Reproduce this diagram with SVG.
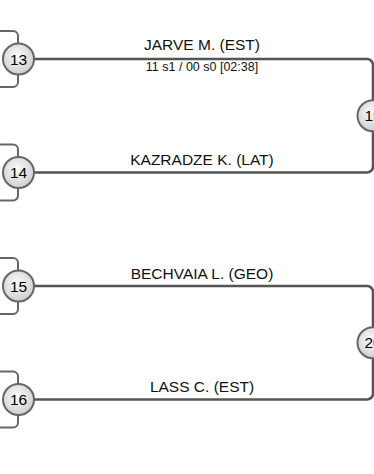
<svg xmlns="http://www.w3.org/2000/svg" width="374" height="474" viewBox="0 0 374 474">
<style>
.ln{fill:none;stroke:#555;stroke-width:2.5}
.br{fill:none;stroke:#666;stroke-width:2}
.c{fill:url(#g);stroke:#666;stroke-width:2}
.n{font-family:"Liberation Sans",Arial,sans-serif;font-size:15.5px;fill:#000;text-anchor:middle}
.name{font-family:"Liberation Sans",Arial,sans-serif;font-size:15.5px;fill:#111;text-anchor:middle}
.sc{font-family:"Liberation Sans",Arial,sans-serif;font-size:12.5px;fill:#111;text-anchor:middle}
</style>
<defs>
<radialGradient id="g" cx="0.45" cy="0.4" r="0.6">
<stop offset="0" stop-color="#fbfbfb"/>
<stop offset="1" stop-color="#cfcfcf"/>
</radialGradient>
</defs>
<g id="connectors">
<path class="br" d="M0,31 H13 A5,5 0 0 1 18,36 V82 A5,5 0 0 1 13,87 H0"/>
<path class="br" d="M0,144.5 H13 A5,5 0 0 1 18,149.5 V195.5 A5,5 0 0 1 13,200.5 H0"/>
<path class="br" d="M0,258 H13 A5,5 0 0 1 18,263 V309 A5,5 0 0 1 13,314 H0"/>
<path class="br" d="M0,371.5 H13 A5,5 0 0 1 18,376.5 V422.5 A5,5 0 0 1 13,427.5 H0"/>
<path class="ln" d="M34,59 H367 A6,6 0 0 1 373,65 V166.5 A6,6 0 0 1 367,172.5 H34"/>
<path class="ln" d="M34,286 H367 A6,6 0 0 1 373,292 V393.5 A6,6 0 0 1 367,399.5 H34"/>
</g>
<g id="m1">
<text class="name" x="202" y="50">JARVE M. (EST)</text>
<text class="sc" x="202" y="71">11 s1 / 00 s0 [02:38]</text>
</g>
<g id="m2">
<text class="name" x="202" y="165">KAZRADZE K. (LAT)</text>
</g>
<g id="m3">
<text class="name" x="202" y="278.5">BECHVAIA L. (GEO)</text>
</g>
<g id="m4">
<text class="name" x="202" y="392">LASS C. (EST)</text>
</g>
<g id="n13"><circle class="c" cx="18.5" cy="59" r="15.5"/><text class="n" x="18.5" y="64.5">13</text></g>
<g id="n14"><circle class="c" cx="18.5" cy="172.5" r="15.5"/><text class="n" x="18.5" y="178">14</text></g>
<g id="n15"><circle class="c" cx="18.5" cy="286" r="15.5"/><text class="n" x="18.5" y="291.5">15</text></g>
<g id="n16"><circle class="c" cx="18.5" cy="399.5" r="15.5"/><text class="n" x="18.5" y="405">16</text></g>
<g id="n19"><circle class="c" cx="373" cy="115.75" r="15.5"/><text class="n" x="373" y="121.25">19</text></g>
<g id="n20"><circle class="c" cx="373" cy="342.75" r="15.5"/><text class="n" x="373" y="348.25">20</text></g>
</svg>
